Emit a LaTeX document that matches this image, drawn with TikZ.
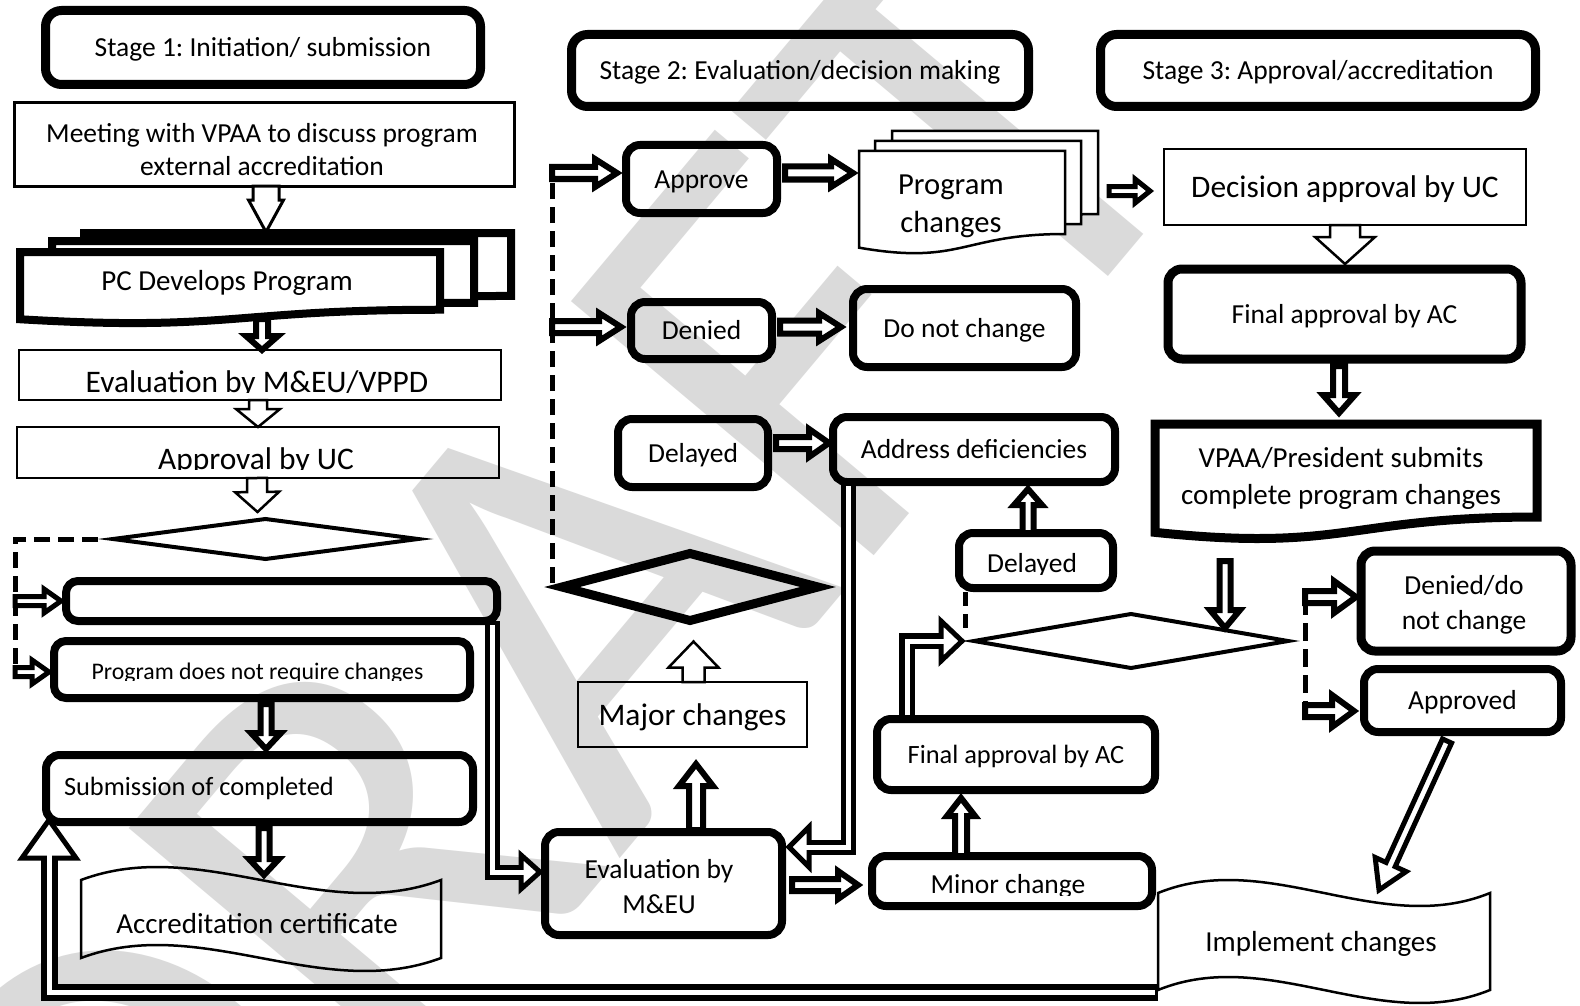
\documentclass[tikz,border=0pt]{standalone}
\usepackage{fontspec}
\setmainfont{Carlito}
\usetikzlibrary{calc}
\definecolor{wmgray}{RGB}{218,218,218}
\frenchspacing
\pgfkeys{/ba/.cd, sw/.store in=\basw, hw/.store in=\bahw, hl/.store in=\bahl, lw/.store in=\balw}
\newcommand\barrow[3][]{%
  \pgfkeys{/ba/.cd, sw=6, hw=14, hl=20, lw=6, #1}%
  \path #2 coordinate (baS) #3 coordinate (baE);%
  \pgfpointdiff{\pgfpointanchor{baS}{center}}{\pgfpointanchor{baE}{center}}%
  \pgfgetlastxy{\badx}{\bady}%
  \pgfmathsetmacro\baang{atan2(\bady,\badx)}%
  \pgfmathsetmacro\balen{veclen(\badx,\bady)}%
  \pgfmathsetmacro\babase{\balen-\bahl}%
  \begin{scope}[shift={(baS)}, rotate=\baang]
    \draw[line width=\balw pt, fill=white, line join=miter, miter limit=6]
      (0pt,-\basw pt) -- (\babase pt,-\basw pt) -- (\babase pt,-\bahw pt) -- (\balen pt,0pt)
      -- (\babase pt,\bahw pt) -- (\babase pt,\basw pt) -- (0pt,\basw pt) -- cycle;
  \end{scope}}
\newcommand\btri[3][]{%
  \pgfkeys{/ba/.cd, hw=14, lw=5, #1}%
  \path #2 coordinate (baS) #3 coordinate (baE);%
  \pgfpointdiff{\pgfpointanchor{baS}{center}}{\pgfpointanchor{baE}{center}}%
  \pgfgetlastxy{\badx}{\bady}%
  \pgfmathsetmacro\baang{atan2(\bady,\badx)}%
  \pgfmathsetmacro\balen{veclen(\badx,\bady)}%
  \begin{scope}[shift={(baS)}, rotate=\baang]
    \draw[line width=\balw pt, fill=white, line join=miter, miter limit=6]
      (0pt,-\bahw pt) -- (\balen pt,0pt) -- (0pt,\bahw pt) -- cycle;
  \end{scope}}
% document shape: opts, x0, y0, w, h
\newcommand\docat[5][]{%
  \draw[#1] (#2,#3) -- ({#2+#4},#3) -- ({#2+#4},{#3+0.802*#5})
   .. controls ({#2+0.5*#4},{#3+0.802*#5}) and ({#2+0.5*#4},{#3+1.107*#5}) ..
   (#2,{#3+0.934*#5}) -- cycle;}
% wave shape: opts, x0, yT, w, yB, A
\newcommand\waveat[6][]{%
  \draw[#1] (#2,#3) .. controls ({#2+#4/3},{#3-#6}) and ({#2+2*#4/3},{#3+#6}) .. ({#2+#4},#3)
   -- ({#2+#4},#5) .. controls ({#2+2*#4/3},{#5+#6}) and ({#2+#4/3},{#5-#6}) .. (#2,#5) -- cycle;}

\begin{document}
\begin{tikzpicture}[x=1pt,y=-1pt,
  rbox/.style={draw, rounded corners=14pt, line width=8pt, inner sep=0pt, outer sep=0pt, align=center},
  tbox/.style={draw, line width=2.5pt, inner sep=0pt, outer sep=0pt, align=center},
  ghost/.style={inner sep=0pt, outer sep=0pt, align=center},
  fa/.style={font=\fontsize{27.5}{33}\selectfont, text height=26.2pt, text depth=7.4pt},
  fb/.style={font=\fontsize{31.4}{37}\selectfont, text height=29.9pt, text depth=8.4pt},
  fc/.style={font=\fontsize{29}{37}\selectfont, text height=27.6pt, text depth=7.8pt},
  fd/.style={font=\fontsize{23.8}{28}\selectfont},
  fe/.style={font=\fontsize{26.4}{32}\selectfont, text height=25.1pt, text depth=7.1pt},
  ml/.style={inner sep=0pt, outer sep=0pt, align=center, yshift=-3.5pt},
  dashline/.style={line width=5pt, dash pattern=on 16pt off 8pt},
  diaedge/.style={line join=miter, miter limit=12},
  dbl/.style={line width=16pt, line join=miter},
  dblw/.style={white, line width=5pt, line join=miter},
]
\useasboundingbox (0,0) rectangle (1580,1006);
\fill[white] (0,0) rectangle (1580,1006);

% watermark
\begin{scope}
\clip (0,0) rectangle (1580,1006);
\node[rotate=50, text=wmgray, font=\fontsize{616}{616}\selectfont, inner sep=0pt, anchor=base west] (wm) at (160,1407) {DRAFT};
\end{scope}

% ---------- Stage headers ----------
\node[rbox, line width=9pt, rounded corners=16pt, minimum width=435pt, minimum height=74pt, fa] (stage1) at (263,47.5) {Stage 1: Initiation/ submission};
\node[rbox, line width=9pt, rounded corners=16pt, minimum width=457pt, minimum height=72pt, fa] (stage2) at (800,70.5) {Stage 2: Evaluation/decision making};
\node[rbox, line width=9pt, rounded corners=16pt, minimum width=435pt, minimum height=72pt, fa] (stage3) at (1318,70.5) {Stage 3: Approval/accreditation};

% ---------- Stage 1 column ----------
\node[tbox, line width=3pt, minimum width=500pt, minimum height=83pt] (meet) at (264,144.5) {};
\node[ml, font=\fontsize{27.5}{33}\selectfont] (meetT) at (262,146) {Meeting with VPAA to discuss program\\external accreditation};

\docat[line width=8pt, fill=white, line join=miter]{84}{233}{427}{78.5}
\docat[line width=8pt, fill=white, line join=miter]{52}{241}{422}{77}
\docat[line width=8pt, fill=white, line join=miter]{20}{252}{420}{72}
\node[ghost, minimum width=420pt, minimum height=72pt] (pc) at (230,288) {};
\node[ghost, fc] (pcT) at (227,281) {PC Develops Program};

\node[tbox, minimum width=482pt, minimum height=50pt] (evalv) at (260,375) {};
\begin{scope}
  \clip (22,352) rectangle (498,392.5);
  \node[ghost, font=\fontsize{31.4}{37}\selectfont, anchor=base] (evalvT) at (257,392) {Evaluation by M\&EU/VPPD};
\end{scope}
\node[tbox, minimum width=482pt, minimum height=51pt] (appr) at (258,452.5) {};
\begin{scope}
  \clip (20,430) rectangle (496,469.5);
  \node[ghost, font=\fontsize{31.4}{37}\selectfont, anchor=base] (apprT) at (256,469) {Approval by UC};
\end{scope}

\node[ghost, minimum width=305pt, minimum height=40pt] (dia1) at (265.5,539) {};
\draw[line width=4pt, diaedge] (dia1.west) -- (dia1.north) -- (dia1.east) -- (dia1.south) -- cycle;

\node[rbox, rounded corners=12pt, minimum width=431pt, minimum height=40pt] (pr) at (281.5,601) {};
\node[rbox, rounded corners=12pt, minimum width=416pt, minimum height=57pt] (pdn) at (262,669.5) {};
\begin{scope}
  \clip (60,645) rectangle (465,680.5);
  \node[ghost, fd, anchor=base] (pdnT) at (257.5,679.5) {Program does not require changes};
\end{scope}
\node[rbox, minimum width=427pt, minimum height=67pt] (sub) at (259.5,788.5) {};
\node[ghost, fe, anchor=west] (subT) at (64,786) {Submission of completed};

\waveat[line width=2.5pt]{81}{880}{360}{958}{45}
\node[ghost, minimum width=360pt, minimum height=78pt] (acc) at (261,919) {};
\node[ghost, fc] (accT) at (257,924) {Accreditation certificate};

% ---------- Stage 2 column ----------
\node[rbox, minimum width=151pt, minimum height=68pt, fa] (approve) at (701.5,179) {Approve};
\node[rbox, minimum width=141pt, minimum height=57pt, fa] (denied) at (701.5,330.5) {Denied};
\node[rbox, minimum width=150pt, minimum height=68pt, fa] (delay1) at (693,453) {Delayed};
\node[rbox, minimum width=223pt, minimum height=78pt, fa] (donot) at (964.5,328) {Do not change};
\node[rbox, minimum width=282pt, minimum height=65pt, fa] (addr) at (974,449.5) {Address deficiencies};

\node[ghost, minimum width=256pt, minimum height=67pt] (dia2) at (690,587) {};
\draw[line width=9pt, diaedge] (dia2.west) -- (dia2.north) -- (dia2.east) -- (dia2.south) -- cycle;

\node[tbox, minimum width=229pt, minimum height=65pt, fb] (major) at (692.5,714.5) {Major changes};
\node[rbox, minimum width=237pt, minimum height=103pt] (eval) at (663.5,883.5) {};
\node[ml, font=\fontsize{27.5}{35}\selectfont] (evalT) at (659,883.5) {Evaluation by\\M\&EU};

\node[rbox, minimum width=278pt, minimum height=71pt, fe] (finalm) at (1016,754.5) {Final approval by AC};
\node[rbox, minimum width=280pt, minimum height=50pt] (minor) at (1012,881) {};
\begin{scope}
  \clip (878,860) rectangle (1146,895);
  \node[ghost, font=\fontsize{27.5}{33}\selectfont, anchor=base] (minorT) at (1008,893.5) {Minor change};
\end{scope}

\node[ghost, minimum width=314pt, minimum height=54pt] (dia3) at (1131,641) {};
\draw[line width=4pt, diaedge] (dia3.west) -- (dia3.north) -- (dia3.east) -- (dia3.south) -- cycle;

\node[rbox, minimum width=154pt, minimum height=55pt] (delay2) at (1036,560.5) {};
\begin{scope}
  \clip (963,537) rectangle (1109,574);
  \node[ghost, font=\fontsize{27.5}{33}\selectfont, anchor=base] (delay2T) at (1032,572.6) {Delayed};
\end{scope}

% ---------- Stage 3 column ----------
\docat[line width=2.5pt, fill=white]{892}{131}{206}{103.5}
\docat[line width=2.5pt, fill=white]{875}{141}{206}{103.5}
\docat[line width=2.5pt, fill=white]{859}{151}{206}{103.5}
\node[ghost, minimum width=206pt, minimum height=103.5pt] (progch) at (962,202.75) {};
\node[ml, font=\fontsize{30.6}{38}\selectfont] (progchT) at (951,203) {Program\\changes};

\node[tbox, minimum width=362pt, minimum height=76pt, fb] (dec) at (1345,187) {Decision approval by UC};
\node[rbox, line width=9pt, minimum width=353pt, minimum height=90pt, fa] (finalr) at (1344.5,314) {Final approval by AC};

\docat[line width=9pt, line join=miter]{1155}{424}{382}{116}
\node[ghost, minimum width=382pt, minimum height=116pt] (vpaa) at (1346,482) {};
\node[ml, font=\fontsize{29}{37}\selectfont] (vpaaT) at (1341,474.5) {VPAA/President submits\\complete program changes};

\node[rbox, line width=9pt, minimum width=210pt, minimum height=100pt] (denied2) at (1466,601) {};
\node[ml, font=\fontsize{27.5}{35}\selectfont] (denied2T) at (1464,601) {Denied/do\\not change};
\node[rbox, minimum width=197pt, minimum height=63pt, fa] (approved) at (1462.5,700.5) {Approved};

\waveat[line width=2.5pt]{1158}{893}{332}{990}{45}
\node[ghost, minimum width=332pt, minimum height=97pt] (impl) at (1324,941.5) {};
\node[ghost, fc] (implT) at (1321,942) {Implement changes};

% ================= connectors =================
% Stage 1
\barrow[sw=13, hw=17.5, hl=32, lw=3]{($(meet.south)+(2,0)$)}{($(meet.south)+(2,46)$)}
\barrow[sw=6, hw=16, hl=14, lw=6]{($(evalv.north)+(2,-31)$)}{($(evalv.north)+(2,0)$)}
\barrow[sw=9, hw=22, hl=18, lw=2.5]{($(evalv.south)+(-2,0)$)}{(appr.north)}
\barrow[sw=10, hw=22, hl=20, lw=2.5]{($(appr.south)+(-1,0)$)}{($(dia1.north)+(-8,-7)$)}

\coordinate (d1corner) at (15,539);
\coordinate (d1end) at (15,675);
\draw[dashline] ($(dia1.west)+(-15,0)$) -- (d1corner) -- (d1end);
\barrow[sw=4.5, hw=12, hl=17, lw=5]{(d1corner |- pr.west)}{($(pr.west)+(-5,0)$)}
\barrow[sw=4.5, hw=12, hl=17, lw=5]{($(d1corner |- pdn.west)+(0,2.5)$)}{($(pdn.west)+(-5,2.5)$)}
\barrow[sw=5.5, hw=15, hl=16, lw=6]{($(pdn.south)+(4,6)$)}{($(sub.north)+(6.5,-6)$)}
\barrow[sw=5.5, hw=15, hl=16, lw=6]{($(sub.south)+(4.5,6)$)}{($(acc.north)+(3,-5)$)}

% PR box -> evaluation (double line)
\coordinate (e1a) at ($(pr.south east)+(-5,0)$);
\coordinate (e1c) at ($(eval.west)+(-24,-11.5)$);
\coordinate (e1t) at ($(eval.west)+(-5,-11.5)$);
\draw[dbl, line width=15pt] (e1a) |- (e1c);
\btri[hw=17, lw=5]{(e1c)}{(e1t)}
\draw[dblw] ($(e1a)+(0,4)$) |- ($(e1c)+(6,0)$);

% Stage 2
\coordinate (d2top) at ($(dia2.west)+(-10,-414)$);
\draw[dashline] ($(dia2.west)+(-10,-4)$) -- (d2top);
\barrow[sw=6, hw=14, hl=22, lw=6]{(d2top)}{($(approve.west)+(-9,-6)$)}
\barrow[sw=6, hw=14, hl=22, lw=6]{($(d2top)+(0,154)$)}{($(denied.west)+(-10,-3.5)$)}
\barrow[sw=6.5, hw=14, hl=22, lw=6]{($(approve.east)+(8,-6)$)}{($(progch.west)+(-6,-29.75)$)}
\barrow[sw=6.5, hw=14, hl=22, lw=6]{($(denied.east)+(8,-3.5)$)}{($(donot.west)+(-12,-1)$)}
\barrow[sw=6, hw=14, hl=20, lw=6]{($(delay1.east)+(8,-10)$)}{($(addr.west)+(-4,-6.5)$)}
\barrow[sw=11, hw=25, hl=26, lw=2.5]{($(major.north)+(1,0)$)}{($(dia2.south)+(3.5,21)$)}
\barrow[sw=7, hw=17, hl=22, lw=6]{($(eval.north)+(32.5,-2)$)}{($(major.south)+(3.5,17)$)}
\barrow[sw=6, hw=14, hl=20, lw=6]{($(eval.east)+(10,1.5)$)}{($(minor.west)+(-14,4)$)}
\barrow[sw=6, hw=14, hl=18, lw=6]{($(minor.north)+(-51,0)$)}{($(finalm.south)+(-55,8)$)}
\barrow[sw=5.5, hw=14, hl=16, lw=6]{($(delay2.north)+(-8,0)$)}{($(addr.south)+(54,7)$)}
\draw[dashline, dash pattern=on 14pt off 8pt] ($(delay2.south west)+(6,4)$) -- ($(delay2.south west)+(6,46)$);

% address deficiencies -> evaluation (double line)
\coordinate (e2a) at ($(addr.south west)+(15,0)$);
\coordinate (e2c) at ($(eval.east)+(27,-36.5)$);
\coordinate (e2t) at ($(eval.east)+(7,-36.5)$);
\draw[dbl, line width=15pt] (e2a) |- (e2c);
\btri[hw=20, lw=5]{(e2c)}{(e2t)}
\draw[dblw] ($(e2a)+(0,4)$) |- ($(e2c)+(-6,0)$);

% final approval (mid) -> decision 3 (double line)
\coordinate (e3a) at ($(finalm.north west)+(30,0)$);
\coordinate (e3t) at ($(dia3.west)+(-12,0)$);
\coordinate (e3c) at ($(e3t)+(-21,0)$);
\draw[dbl, line width=16pt] (e3a) |- (e3c);
\btri[hw=20, lw=5]{(e3c)}{(e3t)}
\draw[dblw] ($(e3a)+(0,-4)$) |- ($(e3c)+(6,0)$);

% Stage 3
\barrow[sw=4.5, hw=12, hl=15, lw=5]{($(progch.east)+(44,-11.75)$)}{($(dec.west)+(-14,4)$)}
\barrow[sw=15, hw=30, hl=27, lw=2.5]{(dec.south)}{($(finalr.north)+(0.5,-5)$)}
\barrow[sw=6, hw=16, hl=18, lw=6]{($(finalr.south)+(-5.5,7)$)}{($(vpaa.north)+(-7,-11)$)}
\barrow[sw=5.5, hw=15, hl=18, lw=6]{($(vpaa.south)+(-121,21)$)}{($(dia3.north)+(94,14)$)}
\coordinate (d3top) at ($(dia3.east)+(17,-44)$);
\coordinate (d3bot) at ($(dia3.east)+(17,70)$);
\draw[dashline, dash pattern=on 18pt off 8pt] (d3top) -- (d3bot);
\barrow[sw=6, hw=16, hl=22, lw=6]{(d3top)}{($(denied2.west)+(-5,-4)$)}
\barrow[sw=6, hw=16, hl=22, lw=6]{(d3bot)}{($(approved.west)+(-10,10.5)$)}
\barrow[sw=5, hw=17, hl=28, lw=5]{($(approved.south)+(-15.5,9)$)}{($(impl.north)+(55,-3)$)}

% feedback loop: implement changes -> submission
\coordinate (lpa) at ($(impl.south west)+(0,2)$);
\coordinate (lpt) at ($(sub.south west)+(3,-2)$);
\coordinate (lpb) at ($(lpt)+(0,38)$);
\draw[dbl, line width=17pt] (lpa) -| (lpb);
\btri[hw=27, lw=5]{(lpb)}{(lpt)}
\draw[dblw] ($(lpa)+(-3,0)$) -| ($(lpb)+(0,-6)$);
\end{tikzpicture}
\end{document}
